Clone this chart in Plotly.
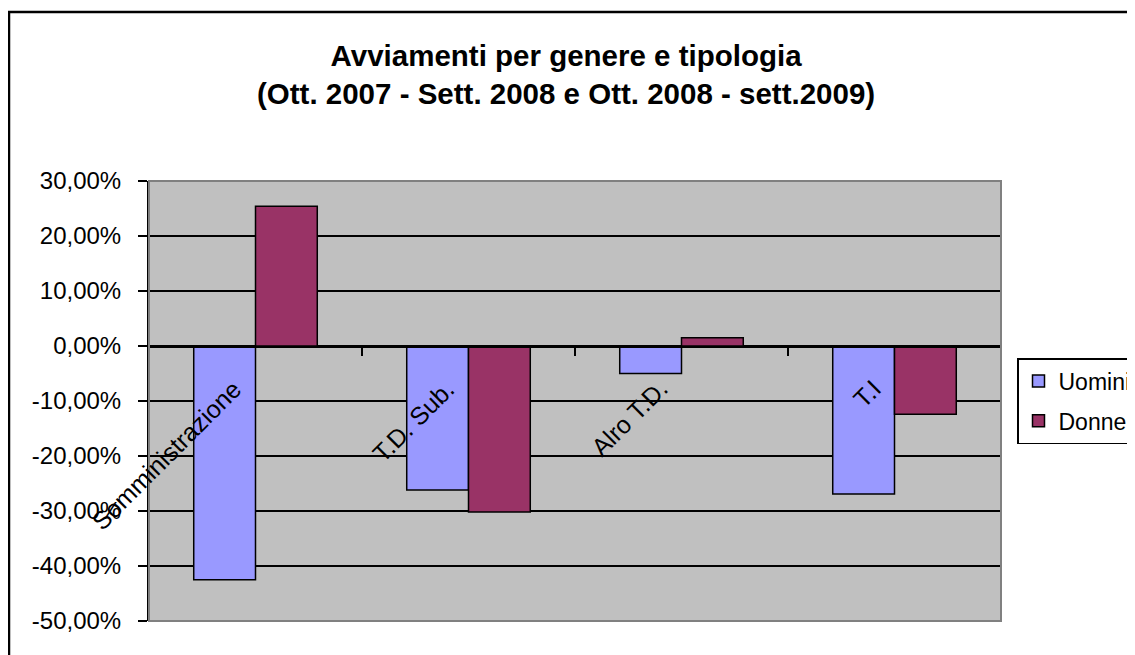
import plotly.graph_objects as go

# ---- data ----
categories = ["Somministrazione", "T.D. Sub.", "Alro T.D.", "T.I"]
uomini = [-0.425, -0.262, -0.050, -0.269]
donne = [0.254, -0.302, 0.015, -0.124]
series_names = ["Uomini", "Donne"]
y_tickvals = [0.3, 0.2, 0.1, 0.0, -0.1, -0.2, -0.3, -0.4, -0.5]
y_ticktext = ["30,00%", "20,00%", "10,00%", "0,00%", "-10,00%", "-20,00%", "-30,00%", "-40,00%", "-50,00%"]
title_lines = ["Avviamenti per genere e tipologia", "(Ott. 2007 - Sett. 2008 e Ott. 2008 - sett.2009)"]

# page body has an 8px default margin: work in window pixels, convert to figure pixels
OFF = 8
W, H = 1135 - OFF, 655 - OFF
PL, PR, PT, PB = 149, 1001, 181, 621          # plot area in window pixels
ML, MR, MT, MB = PL - OFF, W - (PR - OFF), PT - OFF, H - (PB - OFF)
PW, PH = W - ML - MR, H - MT - MB


def px_x(p):
    return (p - OFF - ML) / PW


def px_y(p):
    return (H - MB - (p - OFF)) / PH


FONT = "Liberation Sans, Arial, sans-serif"

fig = go.Figure()
fig.add_trace(go.Bar(x=categories, y=uomini, name=series_names[0], legendgroup="u",
                     marker=dict(color="#9999FF", line=dict(color="black", width=1.5))))
fig.add_trace(go.Bar(x=categories, y=donne, name=series_names[1], legendgroup="d",
                     marker=dict(color="#993366", line=dict(color="black", width=1.5))))

annotations = []
for c in categories:
    annotations.append(dict(x=c, y=0, xref="x", yref="y", text=c, showarrow=False,
                            textangle=-45, xanchor="right", yanchor="top",
                            xshift=-6, yshift=-26,
                            font=dict(family=FONT, size=25, color="black")))
annotations.append(dict(x=px_x(566), y=px_y(37), xref="paper", yref="paper",
                        text="<b>" + title_lines[0] + "</b><br><b>" + title_lines[1] + "</b>",
                        showarrow=False, xanchor="center", yanchor="top",
                        font=dict(family=FONT, size=29.5, color="black")))

shapes = [
    # outer chart border
    dict(type="rect", xref="paper", yref="paper",
         x0=px_x(9), x1=px_x(1160), y0=px_y(680), y1=px_y(12),
         line=dict(color="black", width=2.5), fillcolor="rgba(0,0,0,0)", layer="below"),
    # plot area border
    dict(type="rect", xref="paper", yref="paper", x0=0, x1=1, y0=0, y1=1,
         line=dict(color="#808080", width=2), fillcolor="rgba(0,0,0,0)", layer="above"),
]

fig.update_layout(
    width=W, height=H,
    margin=dict(l=ML, r=MR, t=MT, b=MB, autoexpand=False),
    paper_bgcolor="white", plot_bgcolor="#C0C0C0",
    barmode="group", bargap=0.42, bargroupgap=0,
    font=dict(family=FONT, size=24, color="black"),
    showlegend=True,
    legend=dict(x=px_x(1017), y=px_y(358), xanchor="left", yanchor="top",
                bgcolor="white", bordercolor="black", borderwidth=1.5,
                font=dict(family=FONT, size=23, color="black"),
                itemwidth=30, traceorder="grouped", tracegroupgap=7),
    annotations=annotations,
    shapes=shapes,
    xaxis=dict(range=[-0.5, 3.5], autorange=False,
               anchor="free", position=px_y(346.7), showline=True, linecolor="black", linewidth=2,
               ticks="outside", tickson="boundaries", ticklen=8, tickwidth=1.5, tickcolor="black",
               showticklabels=False, showgrid=False, zeroline=False),
    yaxis=dict(range=[-0.5, 0.3], autorange=False, tickvals=y_tickvals, ticktext=y_ticktext,
               showline=True, linecolor="black", linewidth=2, ticks="outside", ticklen=9,
               tickwidth=2, tickcolor="black", showgrid=True, gridcolor="black", gridwidth=2,
               zeroline=False, ticklabelstandoff=12,
               tickfont=dict(family=FONT, size=24, color="black")),
)

fig.write_html("out.html")
